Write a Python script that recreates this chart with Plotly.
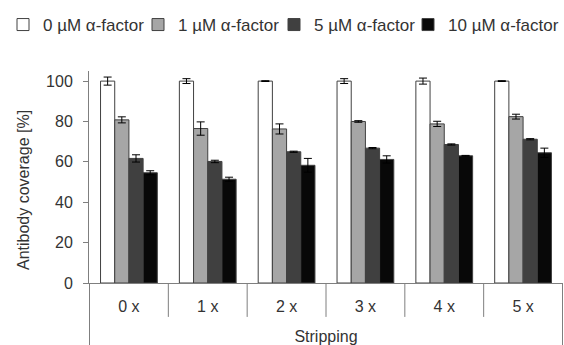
import plotly.graph_objects as go

categories = ["0 x", "1 x", "2 x", "3 x", "4 x", "5 x"]
series_names = ["0 µM α-factor", "1 µM α-factor", "5 µM α-factor", "10 µM α-factor"]
values_0 = [100, 100, 100, 100, 100, 100]
errors_0 = [2.0, 1.2, 0.2, 1.2, 1.5, 0.2]
values_1 = [80.8, 76.5, 76.3, 80.0, 78.8, 82.4]
errors_1 = [1.5, 3.3, 2.5, 0.4, 1.3, 1.2]
values_5 = [61.7, 60.2, 65.0, 66.8, 68.6, 71.2]
errors_5 = [1.8, 0.6, 0.3, 0.3, 0.3, 0.3]
values_10 = [54.6, 51.4, 58.3, 61.2, 63.0, 64.5]
errors_10 = [1.0, 1.0, 3.4, 1.8, 0.2, 2.3]
y_ticks = [0, 20, 40, 60, 80, 100]

colors = ["#ffffff", "#a6a6a6", "#404040", "#080808"]
all_vals = [values_0, values_1, values_5, values_10]
all_errs = [errors_0, errors_1, errors_5, errors_10]
legend_ids = ["legend", "legend2", "legend3", "legend4"]
legend_left_px = [3, 138, 274, 408]

FONT = "Liberation Sans, Arial, sans-serif"
TXT = "#333333"
AX = "#7f7f7f"
W, H = 564, 345

fig = go.Figure()
for name, vals, errs, col, lid in zip(series_names, all_vals, all_errs, colors, legend_ids):
    fig.add_trace(go.Bar(
        x=categories, y=vals, name=name, legend=lid,
        marker=dict(color=col, line=dict(color="#404040", width=1)),
        error_y=dict(type="data", array=errs, visible=True, color="#000000",
                     thickness=1, width=4),
    ))

legend_common = dict(orientation="h", xref="container", yref="container",
                      xanchor="left", y=1 - 25 / H, yanchor="middle",
                      font=dict(size=17, color=TXT), itemwidth=30,
                      bgcolor="rgba(0,0,0,0)")
legends = {lid: dict(legend_common, x=px / W) for lid, px in zip(legend_ids, legend_left_px)}

fig.update_layout(
    width=W, height=H,
    margin=dict(l=89, r=1, t=71, b=62, autoexpand=False),
    paper_bgcolor="white", plot_bgcolor="white",
    barmode="group", bargap=0.28, bargroupgap=0,
    font=dict(family=FONT, size=16, color=TXT),
    showlegend=True,
    xaxis=dict(showline=True, linecolor=AX, linewidth=1, ticks="", showgrid=False,
               automargin=False,
               ticklabelstandoff=9, tickfont=dict(size=16, color=TXT),
               title=dict(text="Stripping", font=dict(size=16, color=TXT), standoff=27)),
    yaxis=dict(range=[0, 105], tickvals=y_ticks, showline=True, linecolor=AX, linewidth=1,
               automargin=False, ticklabelstandoff=7,
               ticks="outside", ticklen=5, tickcolor=AX, showgrid=False, zeroline=False,
               tickfont=dict(size=16, color=TXT)),
    **legends,
)

fig.add_annotation(text="Antibody coverage [%]", textangle=-90,
                   xref="paper", yref="paper", x=-66 / 474, y=(283 - 190) / 212,
                   xanchor="center", yanchor="middle", showarrow=False,
                   font=dict(size=16, color=TXT))

# multi-level category box lines
n = len(categories)
for i in range(n - 1):
    fig.add_shape(type="line", xref="x", yref="paper", x0=i + 0.5, x1=i + 0.5,
                  y0=0, y1=-0.16, line=dict(color=AX, width=1))
for xb in [-0.5, n - 0.5]:
    fig.add_shape(type="line", xref="x", yref="paper", x0=xb, x1=xb,
                  y0=0, y1=-0.35, line=dict(color=AX, width=1))

fig.write_html("out.html")
